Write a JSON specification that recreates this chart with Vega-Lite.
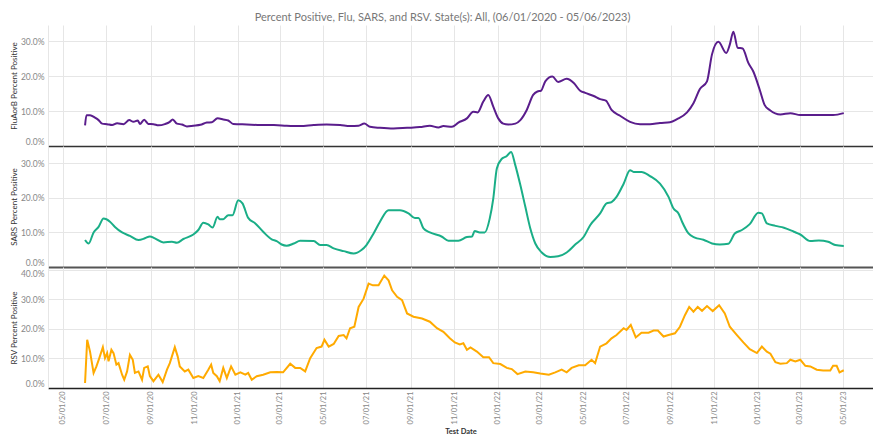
{
  "$schema": "https://vega.github.io/schema/vega-lite/v6.json",
  "padding": {"left": 10, "top": 12, "right": 0, "bottom": 0},
  "title": {"text": "Percent Positive, Flu, SARS, and RSV.  State(s): All, (06/01/2020 - 05/06/2023)", "fontSize": 11, "font": "Lato", "fontWeight": "normal", "color": "#777777", "anchor": "middle", "offset": 2, "dx": 1},
  "spacing": 0,
  "bounds": "flush",
  "config": {
    "view": {"stroke": null},
    "font": "Lato",
    "axis": {"gridColor": "#e6e6e6", "labelColor": "#888888", "titleColor": "#333333", "labelFont": "Lato", "titleFont": "Lato"},
    "axisY": {"ticks": false, "labelPadding": 4, "labelFontSize": 8.5, "titleFontSize": 8, "titleFontWeight": "normal", "domainColor": "#e6e6e6", "minExtent": 28, "maxExtent": 28, "titlePadding": 2, "labelBaseline": {"condition": [{"test": "datum.value == 0", "value": "bottom"}, {"test": "datum.value == 40", "value": "top"}], "value": "middle"}, "labelExpr": "format(datum.value, '.1f') + '%'"}
  },
  "datasets": {
    "flu": [
      {"date": "2020-06-01", "pct": 5.9}, {"date": "2020-06-03", "pct": 8.8}, {"date": "2020-06-08", "pct": 8.8}, {"date": "2020-06-15", "pct": 8.1}, {"date": "2020-06-20", "pct": 7.4}, {"date": "2020-06-25", "pct": 6.4}, {"date": "2020-07-02", "pct": 6.25}, {"date": "2020-07-09", "pct": 6.0}, {"date": "2020-07-16", "pct": 6.5}, {"date": "2020-07-25", "pct": 6.25}, {"date": "2020-08-02", "pct": 7.4}, {"date": "2020-08-08", "pct": 6.9}, {"date": "2020-08-14", "pct": 7.3}, {"date": "2020-08-17", "pct": 6.3}, {"date": "2020-08-23", "pct": 7.5}, {"date": "2020-08-29", "pct": 6.3}, {"date": "2020-09-05", "pct": 6.25}, {"date": "2020-09-12", "pct": 5.9}, {"date": "2020-09-21", "pct": 6.25}, {"date": "2020-09-28", "pct": 6.9}, {"date": "2020-10-02", "pct": 7.6}, {"date": "2020-10-08", "pct": 6.4}, {"date": "2020-10-15", "pct": 6.15}, {"date": "2020-10-22", "pct": 5.6}, {"date": "2020-10-31", "pct": 5.8}, {"date": "2020-11-10", "pct": 6.05}, {"date": "2020-11-19", "pct": 6.7}, {"date": "2020-11-26", "pct": 6.8}, {"date": "2020-12-04", "pct": 7.9}, {"date": "2020-12-12", "pct": 7.6}, {"date": "2020-12-19", "pct": 7.3}, {"date": "2020-12-26", "pct": 6.3}, {"date": "2021-01-14", "pct": 6.15}, {"date": "2021-02-02", "pct": 6.0}, {"date": "2021-02-21", "pct": 6.0}, {"date": "2021-03-11", "pct": 5.8}, {"date": "2021-03-30", "pct": 5.7}, {"date": "2021-04-18", "pct": 6.0}, {"date": "2021-05-06", "pct": 6.15}, {"date": "2021-05-25", "pct": 6.0}, {"date": "2021-06-08", "pct": 5.7}, {"date": "2021-06-20", "pct": 5.8}, {"date": "2021-06-28", "pct": 6.4}, {"date": "2021-07-06", "pct": 5.5}, {"date": "2021-07-20", "pct": 5.2}, {"date": "2021-08-08", "pct": 5.0}, {"date": "2021-08-27", "pct": 5.2}, {"date": "2021-09-14", "pct": 5.4}, {"date": "2021-09-28", "pct": 5.8}, {"date": "2021-10-10", "pct": 5.3}, {"date": "2021-10-17", "pct": 5.7}, {"date": "2021-10-29", "pct": 5.5}, {"date": "2021-11-07", "pct": 6.7}, {"date": "2021-11-19", "pct": 7.9}, {"date": "2021-11-28", "pct": 9.8}, {"date": "2021-12-04", "pct": 9.6}, {"date": "2021-12-12", "pct": 12.7}, {"date": "2021-12-19", "pct": 14.6}, {"date": "2021-12-26", "pct": 11.25}, {"date": "2022-01-02", "pct": 7.9}, {"date": "2022-01-09", "pct": 6.4}, {"date": "2022-01-16", "pct": 6.15}, {"date": "2022-01-26", "pct": 6.4}, {"date": "2022-02-02", "pct": 7.4}, {"date": "2022-02-11", "pct": 10.3}, {"date": "2022-02-20", "pct": 14.6}, {"date": "2022-02-26", "pct": 15.6}, {"date": "2022-03-03", "pct": 15.8}, {"date": "2022-03-09", "pct": 18.5}, {"date": "2022-03-19", "pct": 19.9}, {"date": "2022-03-27", "pct": 18.3}, {"date": "2022-04-08", "pct": 19.2}, {"date": "2022-04-18", "pct": 18.0}, {"date": "2022-04-27", "pct": 15.8}, {"date": "2022-05-04", "pct": 15.2}, {"date": "2022-05-16", "pct": 14.3}, {"date": "2022-05-25", "pct": 13.4}, {"date": "2022-06-02", "pct": 13.0}, {"date": "2022-06-10", "pct": 10.3}, {"date": "2022-06-22", "pct": 8.65}, {"date": "2022-07-06", "pct": 6.9}, {"date": "2022-07-20", "pct": 6.25}, {"date": "2022-08-03", "pct": 6.25}, {"date": "2022-08-17", "pct": 6.6}, {"date": "2022-08-31", "pct": 6.8}, {"date": "2022-09-10", "pct": 7.7}, {"date": "2022-09-24", "pct": 9.6}, {"date": "2022-10-03", "pct": 12.2}, {"date": "2022-10-12", "pct": 16.3}, {"date": "2022-10-22", "pct": 18.5}, {"date": "2022-10-29", "pct": 26.2}, {"date": "2022-11-07", "pct": 29.8}, {"date": "2022-11-18", "pct": 26.6}, {"date": "2022-11-23", "pct": 29.0}, {"date": "2022-11-28", "pct": 32.7}, {"date": "2022-12-04", "pct": 28.1}, {"date": "2022-12-11", "pct": 27.9}, {"date": "2022-12-19", "pct": 23.75}, {"date": "2022-12-26", "pct": 21.3}, {"date": "2023-01-04", "pct": 16.1}, {"date": "2023-01-11", "pct": 11.7}, {"date": "2023-01-18", "pct": 10.3}, {"date": "2023-02-02", "pct": 9.0}, {"date": "2023-02-16", "pct": 9.4}, {"date": "2023-03-02", "pct": 8.85}, {"date": "2023-03-20", "pct": 8.85}, {"date": "2023-04-03", "pct": 8.9}, {"date": "2023-04-17", "pct": 8.85}, {"date": "2023-05-02", "pct": 9.4}
    ],
    "sars": [
      {"date": "2020-06-01", "pct": 7.8}, {"date": "2020-06-06", "pct": 6.8}, {"date": "2020-06-13", "pct": 10.0}, {"date": "2020-06-20", "pct": 11.6}, {"date": "2020-06-27", "pct": 14.0}, {"date": "2020-07-06", "pct": 13.1}, {"date": "2020-07-13", "pct": 11.6}, {"date": "2020-07-23", "pct": 10.0}, {"date": "2020-08-03", "pct": 9.0}, {"date": "2020-08-15", "pct": 7.8}, {"date": "2020-08-24", "pct": 8.3}, {"date": "2020-08-31", "pct": 8.85}, {"date": "2020-09-07", "pct": 8.3}, {"date": "2020-09-19", "pct": 7.1}, {"date": "2020-10-01", "pct": 7.3}, {"date": "2020-10-08", "pct": 7.0}, {"date": "2020-10-17", "pct": 8.1}, {"date": "2020-10-31", "pct": 9.4}, {"date": "2020-11-07", "pct": 10.7}, {"date": "2020-11-14", "pct": 12.8}, {"date": "2020-11-21", "pct": 12.3}, {"date": "2020-11-27", "pct": 11.4}, {"date": "2020-12-04", "pct": 14.5}, {"date": "2020-12-07", "pct": 13.8}, {"date": "2020-12-12", "pct": 13.8}, {"date": "2020-12-19", "pct": 15.0}, {"date": "2020-12-25", "pct": 15.0}, {"date": "2021-01-02", "pct": 19.3}, {"date": "2021-01-08", "pct": 18.4}, {"date": "2021-01-16", "pct": 14.2}, {"date": "2021-01-26", "pct": 12.6}, {"date": "2021-02-06", "pct": 10.2}, {"date": "2021-02-18", "pct": 8.0}, {"date": "2021-02-25", "pct": 7.5}, {"date": "2021-03-04", "pct": 6.5}, {"date": "2021-03-11", "pct": 6.15}, {"date": "2021-03-21", "pct": 6.8}, {"date": "2021-03-30", "pct": 7.6}, {"date": "2021-04-18", "pct": 7.5}, {"date": "2021-04-27", "pct": 6.35}, {"date": "2021-05-06", "pct": 6.35}, {"date": "2021-05-16", "pct": 5.4}, {"date": "2021-05-30", "pct": 4.6}, {"date": "2021-06-13", "pct": 3.9}, {"date": "2021-06-24", "pct": 4.9}, {"date": "2021-07-01", "pct": 6.35}, {"date": "2021-07-11", "pct": 9.7}, {"date": "2021-07-20", "pct": 13.1}, {"date": "2021-08-01", "pct": 16.4}, {"date": "2021-08-17", "pct": 16.4}, {"date": "2021-08-29", "pct": 15.5}, {"date": "2021-09-07", "pct": 14.2}, {"date": "2021-09-12", "pct": 14.2}, {"date": "2021-09-19", "pct": 11.15}, {"date": "2021-09-28", "pct": 10.0}, {"date": "2021-10-15", "pct": 8.75}, {"date": "2021-10-24", "pct": 7.6}, {"date": "2021-11-07", "pct": 7.6}, {"date": "2021-11-19", "pct": 8.65}, {"date": "2021-11-26", "pct": 8.8}, {"date": "2021-11-30", "pct": 10.4}, {"date": "2021-12-07", "pct": 10.0}, {"date": "2021-12-14", "pct": 10.0}, {"date": "2021-12-21", "pct": 14.0}, {"date": "2021-12-26", "pct": 19.8}, {"date": "2021-12-31", "pct": 28.5}, {"date": "2022-01-07", "pct": 31.3}, {"date": "2022-01-14", "pct": 32.1}, {"date": "2022-01-20", "pct": 33.3}, {"date": "2022-01-26", "pct": 29.4}, {"date": "2022-02-02", "pct": 23.7}, {"date": "2022-02-09", "pct": 17.4}, {"date": "2022-02-16", "pct": 11.15}, {"date": "2022-02-23", "pct": 6.8}, {"date": "2022-03-04", "pct": 4.2}, {"date": "2022-03-16", "pct": 2.9}, {"date": "2022-03-27", "pct": 3.1}, {"date": "2022-04-08", "pct": 4.2}, {"date": "2022-04-20", "pct": 6.5}, {"date": "2022-05-02", "pct": 8.75}, {"date": "2022-05-11", "pct": 12.1}, {"date": "2022-05-25", "pct": 15.5}, {"date": "2022-06-03", "pct": 18.4}, {"date": "2022-06-10", "pct": 18.8}, {"date": "2022-06-17", "pct": 20.3}, {"date": "2022-06-27", "pct": 24.1}, {"date": "2022-07-06", "pct": 28.0}, {"date": "2022-07-11", "pct": 27.5}, {"date": "2022-07-22", "pct": 27.5}, {"date": "2022-08-03", "pct": 26.3}, {"date": "2022-08-17", "pct": 24.1}, {"date": "2022-08-29", "pct": 20.3}, {"date": "2022-09-05", "pct": 16.9}, {"date": "2022-09-12", "pct": 15.5}, {"date": "2022-09-17", "pct": 13.1}, {"date": "2022-09-26", "pct": 9.7}, {"date": "2022-10-05", "pct": 8.5}, {"date": "2022-10-17", "pct": 7.9}, {"date": "2022-10-29", "pct": 6.8}, {"date": "2022-11-09", "pct": 6.5}, {"date": "2022-11-21", "pct": 6.7}, {"date": "2022-11-30", "pct": 9.7}, {"date": "2022-12-10", "pct": 10.7}, {"date": "2022-12-21", "pct": 12.4}, {"date": "2023-01-02", "pct": 15.7}, {"date": "2023-01-07", "pct": 15.5}, {"date": "2023-01-14", "pct": 12.6}, {"date": "2023-01-26", "pct": 11.9}, {"date": "2023-02-07", "pct": 11.35}, {"date": "2023-02-21", "pct": 10.2}, {"date": "2023-03-02", "pct": 9.4}, {"date": "2023-03-16", "pct": 7.5}, {"date": "2023-03-28", "pct": 7.7}, {"date": "2023-04-10", "pct": 7.3}, {"date": "2023-04-20", "pct": 6.35}, {"date": "2023-05-02", "pct": 6.05}
    ],
    "rsv": [
      {"date": "2020-06-01", "pct": 1.7}, {"date": "2020-06-04", "pct": 16.3}, {"date": "2020-06-08", "pct": 12.3}, {"date": "2020-06-13", "pct": 5.1}, {"date": "2020-06-17", "pct": 7.3}, {"date": "2020-06-21", "pct": 10.1}, {"date": "2020-06-26", "pct": 13.8}, {"date": "2020-06-29", "pct": 10.1}, {"date": "2020-07-02", "pct": 11.8}, {"date": "2020-07-04", "pct": 9.0}, {"date": "2020-07-08", "pct": 12.9}, {"date": "2020-07-11", "pct": 11.8}, {"date": "2020-07-15", "pct": 7.9}, {"date": "2020-07-18", "pct": 8.4}, {"date": "2020-07-23", "pct": 4.5}, {"date": "2020-07-26", "pct": 2.8}, {"date": "2020-07-30", "pct": 5.6}, {"date": "2020-08-03", "pct": 11.2}, {"date": "2020-08-07", "pct": 9.55}, {"date": "2020-08-10", "pct": 5.1}, {"date": "2020-08-15", "pct": 5.6}, {"date": "2020-08-20", "pct": 2.8}, {"date": "2020-08-23", "pct": 6.8}, {"date": "2020-08-28", "pct": 7.3}, {"date": "2020-08-31", "pct": 4.0}, {"date": "2020-09-05", "pct": 2.3}, {"date": "2020-09-12", "pct": 4.5}, {"date": "2020-09-18", "pct": 2.0}, {"date": "2020-09-24", "pct": 6.2}, {"date": "2020-09-28", "pct": 8.4}, {"date": "2020-10-05", "pct": 13.8}, {"date": "2020-10-09", "pct": 10.7}, {"date": "2020-10-12", "pct": 7.3}, {"date": "2020-10-19", "pct": 5.6}, {"date": "2020-10-24", "pct": 6.2}, {"date": "2020-10-31", "pct": 3.4}, {"date": "2020-11-07", "pct": 4.0}, {"date": "2020-11-14", "pct": 3.4}, {"date": "2020-11-21", "pct": 6.2}, {"date": "2020-11-25", "pct": 7.9}, {"date": "2020-11-28", "pct": 5.1}, {"date": "2020-12-03", "pct": 4.0}, {"date": "2020-12-07", "pct": 2.3}, {"date": "2020-12-12", "pct": 6.8}, {"date": "2020-12-17", "pct": 3.4}, {"date": "2020-12-23", "pct": 7.3}, {"date": "2020-12-29", "pct": 4.5}, {"date": "2021-01-05", "pct": 5.3}, {"date": "2021-01-12", "pct": 4.5}, {"date": "2021-01-16", "pct": 5.1}, {"date": "2021-01-21", "pct": 2.8}, {"date": "2021-01-28", "pct": 4.0}, {"date": "2021-02-06", "pct": 4.5}, {"date": "2021-02-16", "pct": 5.3}, {"date": "2021-02-25", "pct": 5.4}, {"date": "2021-03-06", "pct": 5.3}, {"date": "2021-03-16", "pct": 8.2}, {"date": "2021-03-23", "pct": 6.8}, {"date": "2021-03-30", "pct": 6.8}, {"date": "2021-04-06", "pct": 5.6}, {"date": "2021-04-13", "pct": 10.1}, {"date": "2021-04-22", "pct": 13.5}, {"date": "2021-04-29", "pct": 14.0}, {"date": "2021-05-03", "pct": 16.3}, {"date": "2021-05-09", "pct": 14.0}, {"date": "2021-05-16", "pct": 14.9}, {"date": "2021-05-23", "pct": 17.6}, {"date": "2021-05-30", "pct": 17.9}, {"date": "2021-06-03", "pct": 16.8}, {"date": "2021-06-08", "pct": 20.2}, {"date": "2021-06-14", "pct": 20.7}, {"date": "2021-06-20", "pct": 27.4}, {"date": "2021-06-27", "pct": 30.2}, {"date": "2021-07-04", "pct": 35.3}, {"date": "2021-07-10", "pct": 34.7}, {"date": "2021-07-18", "pct": 34.7}, {"date": "2021-07-26", "pct": 38.0}, {"date": "2021-08-01", "pct": 36.4}, {"date": "2021-08-06", "pct": 33.0}, {"date": "2021-08-13", "pct": 30.8}, {"date": "2021-08-20", "pct": 29.7}, {"date": "2021-08-27", "pct": 25.2}, {"date": "2021-09-05", "pct": 24.1}, {"date": "2021-09-17", "pct": 23.5}, {"date": "2021-09-28", "pct": 22.4}, {"date": "2021-10-08", "pct": 20.2}, {"date": "2021-10-17", "pct": 19.0}, {"date": "2021-10-26", "pct": 16.8}, {"date": "2021-11-02", "pct": 15.4}, {"date": "2021-11-09", "pct": 14.7}, {"date": "2021-11-14", "pct": 15.1}, {"date": "2021-11-19", "pct": 12.9}, {"date": "2021-11-24", "pct": 13.7}, {"date": "2021-12-03", "pct": 12.3}, {"date": "2021-12-12", "pct": 10.4}, {"date": "2021-12-20", "pct": 10.4}, {"date": "2021-12-26", "pct": 8.4}, {"date": "2022-01-05", "pct": 8.1}, {"date": "2022-01-14", "pct": 6.8}, {"date": "2022-01-21", "pct": 6.4}, {"date": "2022-01-29", "pct": 4.7}, {"date": "2022-02-09", "pct": 5.6}, {"date": "2022-02-20", "pct": 5.3}, {"date": "2022-03-02", "pct": 4.9}, {"date": "2022-03-14", "pct": 4.5}, {"date": "2022-03-23", "pct": 5.3}, {"date": "2022-04-01", "pct": 6.2}, {"date": "2022-04-08", "pct": 5.3}, {"date": "2022-04-15", "pct": 6.8}, {"date": "2022-04-25", "pct": 7.7}, {"date": "2022-05-04", "pct": 7.7}, {"date": "2022-05-13", "pct": 9.55}, {"date": "2022-05-18", "pct": 8.4}, {"date": "2022-05-25", "pct": 14.0}, {"date": "2022-06-03", "pct": 15.1}, {"date": "2022-06-10", "pct": 16.8}, {"date": "2022-06-17", "pct": 17.9}, {"date": "2022-06-27", "pct": 20.2}, {"date": "2022-07-01", "pct": 19.6}, {"date": "2022-07-07", "pct": 21.3}, {"date": "2022-07-14", "pct": 17.1}, {"date": "2022-07-22", "pct": 18.7}, {"date": "2022-08-01", "pct": 18.7}, {"date": "2022-08-08", "pct": 19.4}, {"date": "2022-08-14", "pct": 19.4}, {"date": "2022-08-22", "pct": 17.4}, {"date": "2022-08-29", "pct": 17.9}, {"date": "2022-09-07", "pct": 18.5}, {"date": "2022-09-14", "pct": 20.7}, {"date": "2022-09-21", "pct": 24.6}, {"date": "2022-09-27", "pct": 27.4}, {"date": "2022-10-03", "pct": 25.8}, {"date": "2022-10-09", "pct": 27.4}, {"date": "2022-10-15", "pct": 26.1}, {"date": "2022-10-22", "pct": 27.7}, {"date": "2022-10-30", "pct": 26.0}, {"date": "2022-11-08", "pct": 28.0}, {"date": "2022-11-16", "pct": 25.2}, {"date": "2022-11-23", "pct": 20.7}, {"date": "2022-12-03", "pct": 17.9}, {"date": "2022-12-12", "pct": 15.4}, {"date": "2022-12-21", "pct": 13.1}, {"date": "2022-12-31", "pct": 11.8}, {"date": "2023-01-07", "pct": 14.0}, {"date": "2023-01-14", "pct": 12.3}, {"date": "2023-01-19", "pct": 11.6}, {"date": "2023-01-26", "pct": 8.7}, {"date": "2023-02-02", "pct": 8.2}, {"date": "2023-02-11", "pct": 8.4}, {"date": "2023-02-16", "pct": 9.55}, {"date": "2023-02-23", "pct": 9.0}, {"date": "2023-03-02", "pct": 9.55}, {"date": "2023-03-09", "pct": 7.5}, {"date": "2023-03-16", "pct": 7.3}, {"date": "2023-03-25", "pct": 6.2}, {"date": "2023-04-03", "pct": 5.9}, {"date": "2023-04-13", "pct": 5.9}, {"date": "2023-04-17", "pct": 7.5}, {"date": "2023-04-22", "pct": 7.5}, {"date": "2023-04-26", "pct": 5.3}, {"date": "2023-05-02", "pct": 6.0}
    ]
  },
  "vconcat": [
    {
      "width": 825, "height": 121,
      "data": {"name": "flu"},
      "mark": {"type": "line", "color": "#5a1d8c", "strokeWidth": 2, "interpolate": "monotone"},
      "encoding": {
        "x": {"field": "date", "type": "temporal", "scale": {"type": "utc", "domain": [{"year": 2020, "month": 4, "date": 10, "utc": true}, {"year": 2023, "month": 6, "date": 12, "utc": true}]}, "axis": {"labels": false, "ticks": false, "title": null, "domainColor": "#333333", "domainWidth": 1.5, "tickCount": {"interval": "month", "step": 2}}},
        "y": {"field": "pct", "type": "quantitative", "scale": {"domain": [0, 34.6], "nice": false}, "axis": {"title": "FluAorB Percent Positive", "values": [0, 10, 20, 30]}}
      }
    },
    {
      "width": 825, "height": 121,
      "data": {"name": "sars"},
      "mark": {"type": "line", "color": "#1aae87", "strokeWidth": 2, "interpolate": "monotone"},
      "encoding": {
        "x": {"field": "date", "type": "temporal", "scale": {"type": "utc", "domain": [{"year": 2020, "month": 4, "date": 10, "utc": true}, {"year": 2023, "month": 6, "date": 12, "utc": true}]}, "axis": {"labels": false, "ticks": false, "title": null, "domainColor": "#555555", "domainWidth": 2, "tickCount": {"interval": "month", "step": 2}}},
        "y": {"field": "pct", "type": "quantitative", "scale": {"domain": [0, 35], "nice": false}, "axis": {"title": "SARS Percent Positive", "values": [0, 10, 20, 30]}}
      }
    },
    {
      "width": 825, "height": 121,
      "data": {"name": "rsv"},
      "mark": {"type": "line", "color": "#ffaa00", "strokeWidth": 2},
      "encoding": {
        "x": {"field": "date", "type": "temporal", "scale": {"type": "utc", "domain": [{"year": 2020, "month": 4, "date": 10, "utc": true}, {"year": 2023, "month": 6, "date": 12, "utc": true}]}, "axis": {"title": "Test Date", "titleFontSize": 7.5, "titleFontWeight": "bold", "titlePadding": 4, "format": "%m/%d/%y", "labelAngle": -90, "labelFontSize": 7.5, "labelPadding": 3, "ticks": false, "domainColor": "#222222", "domainWidth": 1.5, "tickCount": {"interval": "month", "step": 2}}},
        "y": {"field": "pct", "type": "quantitative", "scale": {"domain": [0, 40.9], "nice": false}, "axis": {"title": "RSV Percent Positive", "values": [0, 10, 20, 30, 40]}}
      }
    }
  ]
}
